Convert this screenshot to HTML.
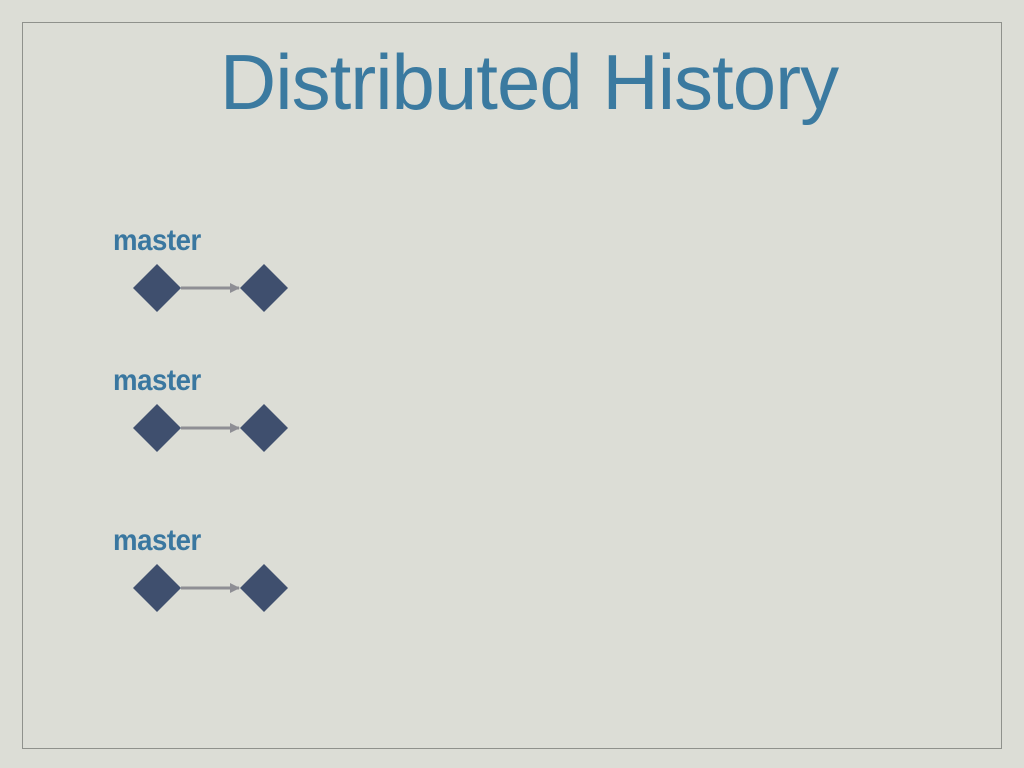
<!DOCTYPE html>
<html><head><meta charset="utf-8"><style>
html,body{margin:0;padding:0;width:1024px;height:768px;background:#dcddd6;overflow:hidden;font-family:"Liberation Sans",sans-serif}
#frame{position:absolute;left:22px;top:22px;width:978px;height:725px;border:1px solid #8f918c}
#title{position:absolute;left:0;width:1058px;top:37px;text-align:center;font-size:78px;color:#3b7aa0;letter-spacing:-1px}
.lbl{position:absolute;left:113px;font-size:30px;font-weight:bold;color:#3a77a0;transform:scaleX(0.92);transform-origin:left top;letter-spacing:-0.5px}
svg{position:absolute;left:0;top:0}
</style></head><body>
<div id="frame"></div>
<div id="title">Distributed History</div>
<div class="lbl" style="top:224px">master</div>
<div class="lbl" style="top:364px">master</div>
<div class="lbl" style="top:524px">master</div>
<svg id="g" width="1024" height="768">
<defs><marker id="ah" markerWidth="10" markerHeight="10" refX="9" refY="5" orient="auto" markerUnits="userSpaceOnUse"><path d="M0,0 L10,5 L0,10 Z" fill="#8e8e94"/></marker></defs>
</svg>
<script>
const rows=[288,428,588];
const commitsX=[157,264];
const svg=document.getElementById('g');
const NS='http://www.w3.org/2000/svg';
rows.forEach((y,r)=>{
  const ln=document.createElementNS(NS,'line');
  ln.setAttribute('x1',commitsX[0]+24);ln.setAttribute('y1',y);
  ln.setAttribute('x2',commitsX[1]-25);ln.setAttribute('y2',y);
  ln.setAttribute('stroke','#8e8e94');ln.setAttribute('stroke-width','3');
  ln.setAttribute('marker-end','url(#ah)');
  
  
  svg.appendChild(ln);
  commitsX.forEach(x=>{
    const p=document.createElementNS(NS,'polygon');
    p.setAttribute('points',`${x},${y-24} ${x+24},${y} ${x},${y+24} ${x-24},${y}`);
    p.setAttribute('fill','#3f4f6e');
    
    
    svg.appendChild(p);
  });
});
</script>
</body></html>
